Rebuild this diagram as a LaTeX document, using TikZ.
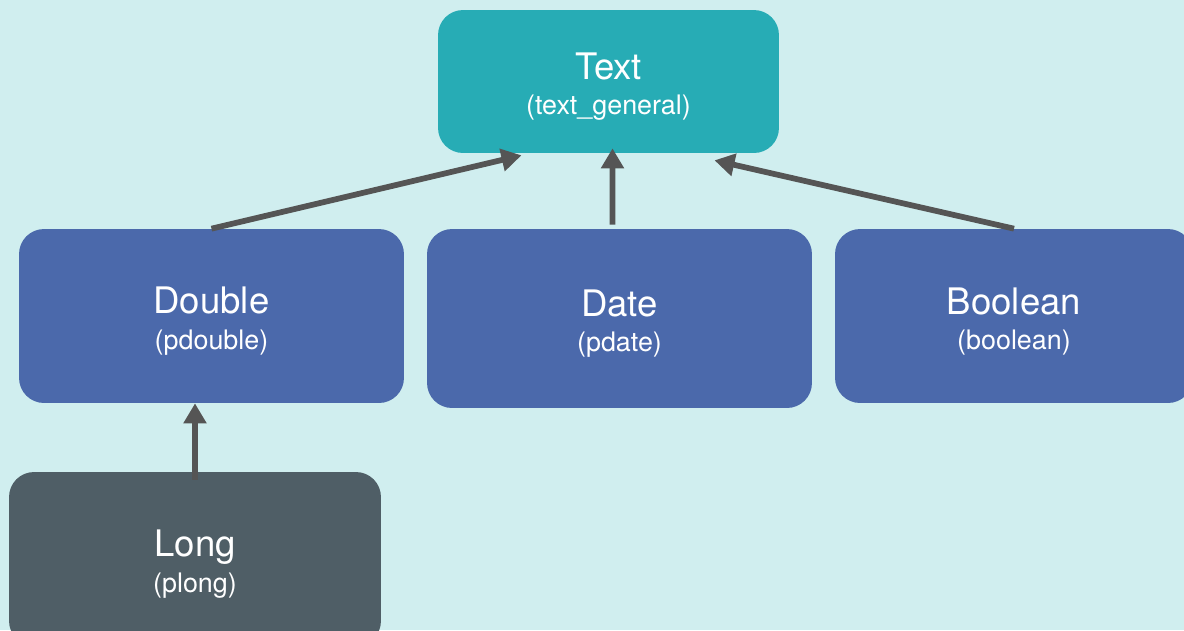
\documentclass[tikz,border=0pt]{standalone}
\usepackage{fontspec}
\setmainfont{TeX Gyre Heros}
\usepackage{xcolor}
\usepackage{tikz}
\usetikzlibrary{positioning,arrows.meta,calc}

\definecolor{bgcol}{HTML}{D0EEEF}
\definecolor{textcol}{HTML}{27ACB5}
\definecolor{primcol}{HTML}{4B69AB}
\definecolor{longcol}{HTML}{4F5E66}
\definecolor{arrcol}{HTML}{555555}

% title over the field name in brackets
\newcommand{\typename}[2]{%
{\fontsize{20.8}{22}\selectfont\rule{0pt}{21pt}#1}\\
#2}

\begin{document}
\begin{tikzpicture}[
    x=0.02cm, y=-0.02cm,
    box/.style={
        rounded corners=0.5cm,
        inner sep=0pt,
        minimum width=7.7cm,
        minimum height=3.48cm,
        align=center,
        font=\fontsize{15.3}{20}\selectfont,
        text=white,
        fill=primcol
    },
    arr/.style={-{Triangle[length=0.4cm,width=0.44cm]}, line width=0.115cm, draw=arrcol}
]
\useasboundingbox (0,0) rectangle (1184,630);
\fill[bgcol] (0,0) rectangle (1184,630);

% top
\node[box, fill=textcol, minimum width=6.82cm, minimum height=2.86cm] (txt) at (608.5,81.5)
{\typename{Text}{(text\_general)}};

% middle row
\node[box] (dbl) at (211.5,316) {\typename{Double}{(pdouble)}};
\node[box, minimum height=3.58cm] (dat) at (619.5,318.5) {\typename{Date}{(pdate)}};
\node[box, minimum width=7.16cm] (bool) at (1014,316) {\typename{Boolean}{(boolean)}};

% bottom
\node[box, fill=longcol, minimum width=7.44cm] (lng) at (195,559) {\typename{Long}{(plong)}};

\draw[arr] (dbl.north) -- ($(txt.south)+(-87,2)$);
\draw[arr] ([xshift=-0.14cm,yshift=0.08cm]dat.north) -- ([xshift=0.08cm,yshift=0.1cm]txt.south);
\draw[arr] (bool.north) -- ($(txt.south)+(106,7)$);
\draw[arr] ([yshift=-0.16cm]lng.north) -- (lng.north |- dbl.south);

\end{tikzpicture}
\end{document}
